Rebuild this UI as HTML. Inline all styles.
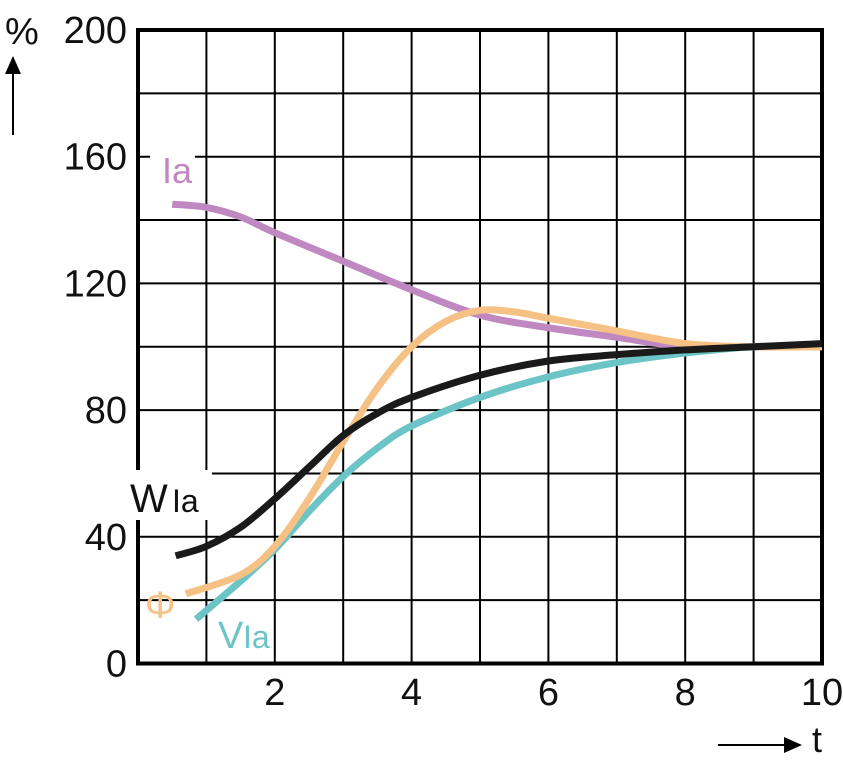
<!DOCTYPE html>
<html><head><meta charset="utf-8"><style>
html,body{margin:0;padding:0;background:#fff;}
svg{display:block;font-family:"Liberation Sans",sans-serif;}
</style></head><body>
<svg id="chart" width="843" height="768" viewBox="0 0 843 768">
<defs><marker id="ah" markerWidth="10" markerHeight="10" refX="8" refY="5" orient="auto"><path d="M0,1 L9,5 L0,9 Z" fill="#000"/></marker></defs>
<g id="grid"></g>
<g id="series"></g>
<g id="labels"></g>
</svg>
<script>
const xTicks = [2,4,6,8,10];
const yTicks = [0,40,80,120,160,200];
const iaT = [0.5,1,1.5,2,3,4,5,6,7,8,9,10];
const iaV = [145,144,141,136,127,118,110,106,103,100,100,100];
const phiT = [0.7,1.5,2,2.5,3,3.5,4,4.5,5,5.5,6,7,8,9,10];
const phiV = [22,28,37,52,70,87,100,108,111.5,111,109,105,101,100,100];
const wT = [0.55,1,1.5,2,2.5,3,3.5,4,5,6,7,8,9,10];
const wV = [34,37,43,52,62,72,79,84,91,95.5,97.5,99,100,101];
const vT = [0.85,1.5,2,2.5,3,3.5,4,5,6,7,8,9,10];
const vV = [14,26,36,48,59,68,75,84,90.5,95,98,100,100];

const X0=138,X1=822,Y0=663.5,Y1=30;
const sx=t=>X0+(X1-X0)*t/10;
const sy=v=>Y0-(Y0-Y1)*v/200;
const NS="http://www.w3.org/2000/svg";
function mk(tag,attrs,parent){const e=document.createElementNS(NS,tag);for(const k in attrs)e.setAttribute(k,attrs[k]);parent.appendChild(e);return e;}
const grid=document.getElementById('grid'),ser=document.getElementById('series'),lab=document.getElementById('labels');
for(let i=1;i<10;i++){const l=mk('line',{x1:sx(i),x2:sx(i),y1:Y1,y2:Y0,stroke:'#000','stroke-width':2},grid);

}
for(let v=20;v<200;v+=20){const l=mk('line',{x1:X0,x2:X1,y1:sy(v),y2:sy(v),stroke:'#000','stroke-width':2},grid);

}
const fr=mk('rect',{x:X0,y:Y1,width:X1-X0,height:Y0-Y1,fill:'none',stroke:'#000','stroke-width':4},grid);


function path(ts,vs){const p=ts.map((t,i)=>[sx(t),sy(vs[i])]);let d='M'+p[0][0]+','+p[0][1];
for(let i=0;i<p.length-1;i++){const a=p[i-1]||p[i],b=p[i],c=p[i+1],e=p[i+2]||c;
d+=' C'+(b[0]+(c[0]-a[0])/6)+','+(b[1]+(c[1]-a[1])/6)+' '+(c[0]-(e[0]-b[0])/6)+','+(c[1]-(e[1]-b[1])/6)+' '+c[0]+','+c[1];}return d;}
function line(ts,vs,col,name){const e=mk('path',{d:path(ts,vs),fill:'none',stroke:col,'stroke-width':7},ser);

}
line(iaT,iaV,'#c088c0','line-ia');
line(vT,vV,'#6cc4c6','line-v-ia');
line(phiT,phiV,'#f5c184','line-phi');
line(wT,wV,'#1a1a1a','line-w-ia');
function txt(x,y,s,anchor,size,col,name){const e=mk('text',{x:x,y:y,'text-anchor':anchor,'font-size':size,fill:col},lab);e.textContent=s;

return e;}
yTicks.forEach(v=>txt(127,sy(v)+13,String(v),'end',38,'#111','y-tick-label'));
xTicks.forEach(t=>txt(sx(t),705,String(t),'middle',38,'#111','x-tick-label'));
// label backgrounds
[[150,140,45,40],[100,470,112,50]].forEach(r=>{const b=mk('rect',{x:r[0],y:r[1],width:r[2],height:r[3],fill:'#fff'},lab);

});
txt(162,183,'Ia','start',36,'#c088c0','label-ia');
txt(130,512,'W','start',40,'#111','label-w');
txt(172,512,'Ia','start',32,'#111','label-w-sub');
txt(145,618,'Φ','start',38,'#f5c184','label-phi');
txt(218,648,'V','start',38,'#6cc4c6','label-v');
txt(243,648,'Ia','start',32,'#6cc4c6','label-v-sub');
txt(5,44,'%','start',38,'#111','y-unit-label');
txt(812,752,'t','start',36,'#111','x-axis-label');
const a1=mk('line',{x1:13,y1:135,x2:13,y2:58,stroke:'#000','stroke-width':2,'marker-end':'url(#ah)'},lab);


const a2=mk('line',{x1:718,y1:745,x2:800,y2:745,stroke:'#000','stroke-width':2,'marker-end':'url(#ah)'},lab);


</script>
</body></html>
